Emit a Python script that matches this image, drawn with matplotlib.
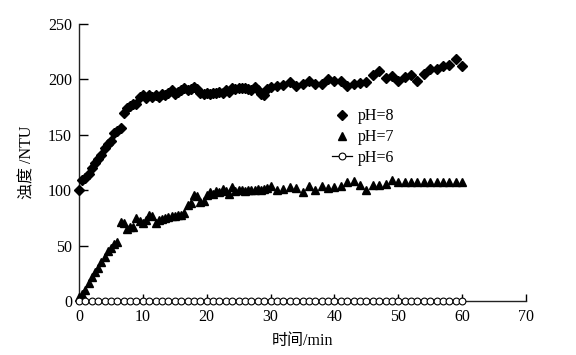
import matplotlib
matplotlib.use("Agg")
import matplotlib.pyplot as plt
import numpy as np

plt.rcParams['font.family'] = ['Liberation Serif', 'Noto Sans CJK SC']
plt.rcParams['mathtext.fontset'] = 'stix'

# time axes (min)
t_dense = [0, 0.5, 1, 1.5, 2, 2.5, 3, 3.5, 4, 4.5, 5, 5.5, 6, 6.5, 7, 7.5, 8, 8.5, 9, 9.5,
           10, 10.5, 11, 11.5, 12, 12.5, 13, 13.5, 14, 14.5, 15, 15.5, 16, 16.5, 17, 17.5,
           18, 18.5, 19, 19.5, 20, 20.5, 21, 21.5, 22, 22.5, 23, 23.5, 24, 24.5, 25, 25.5,
           26, 26.5, 27, 27.5, 28, 28.5, 29, 29.5, 30, 31, 32, 33, 34, 35, 36, 37, 38, 39,
           40, 41, 42, 43, 44, 45, 46, 47, 48, 49, 50, 51, 52, 53, 54, 55, 56, 57, 58, 59, 60]

ph8 = [100, 109, 111, 115, 120, 125, 128, 132, 138, 142, 144, 152, 153, 156, 170, 174, 176, 178, 178, 184,
       186, 183, 186, 184, 186, 184, 187, 186, 188, 190, 187, 189, 190, 192, 190, 191,
       193, 191, 188, 187, 188, 187, 188, 188, 189, 188, 190, 189, 192, 191, 192, 192,
       192, 191, 190, 193, 190, 187, 186, 191, 193, 194, 195, 198, 194, 196, 199, 196, 196, 200,
       199, 199, 194, 196, 197, 198, 204, 208, 201, 203, 199, 202, 204, 199, 205, 209, 209, 212, 213, 218, 212]

ph7 = [4, 6, 10, 16, 22, 26, 30, 35, 40, 45, 48, 51, 53, 71, 70, 65, 67, 67, 75, 72,
       70, 73, 78, 77, 70, 73, 74, 75, 76, 77, 77, 78, 78, 79, 87, 88,
       96, 95, 89, 90, 96, 98, 97, 99, 98, 101, 99, 97, 103, 99, 100, 100,
       99, 100, 100, 100, 101, 100, 101, 102, 104, 100, 101, 103, 102, 98, 104, 100, 104, 102,
       103, 104, 107, 108, 105, 100, 105, 105, 106, 109, 107, 107, 107, 107, 107, 107, 107, 107, 107, 107, 107]

t_ph6 = list(range(0, 61))
ph6 = [0] * 61

x_ticks = [0, 10, 20, 30, 40, 50, 60, 70]
y_ticks = [0, 50, 100, 150, 200, 250]

fs = 11.5

fig = plt.figure(figsize=(5.76, 3.55), dpi=100)
ax = fig.add_axes([79/576, 1 - 301/355, 447/576, 277/355])

ax.plot(t_dense, ph8, linestyle='none', marker='D', markersize=4.6, color='black',
        label='pH=8', clip_on=False, zorder=3)
ax.plot(t_dense, ph7, linestyle='none', marker='^', markersize=6.3, color='black',
        label='pH=7', clip_on=False, zorder=3)
ax.plot(t_ph6, ph6, linestyle='-', linewidth=0.9, marker='o', markersize=4.9,
        markerfacecolor='white', markeredgecolor='black', markeredgewidth=0.8,
        color='black', label='pH=6', clip_on=False, zorder=4)

ax.set_xlim(0, 70)
ax.set_ylim(0, 250)
ax.set_xticks(x_ticks)
ax.set_yticks(y_ticks)
ax.spines['top'].set_visible(False)
ax.spines['right'].set_visible(False)
for s in ('left', 'bottom'):
    ax.spines[s].set_linewidth(1.0)
    ax.spines[s].set_color('#222222')
ax.tick_params(axis='x', direction='in', length=5, width=1.0, pad=6, labelsize=fs)
ax.tick_params(axis='y', direction='in', length=6.5, width=1.0, pad=5, labelsize=fs)

ax.set_xlabel('时间/min', fontsize=fs)
ax.set_ylabel('浊度 /NTU', fontsize=fs)
ax.xaxis.set_label_coords(0.5, -0.115)
ax.yaxis.set_label_coords(-0.098, 0.5)

leg = ax.legend(loc='upper left', bbox_to_anchor=(0.565, 0.695), frameon=False,
                borderpad=0, handlelength=1.3, handletextpad=0.35, labelspacing=0.3,
                fontsize=fs, borderaxespad=0)

fig.savefig('out.png', dpi=100)
